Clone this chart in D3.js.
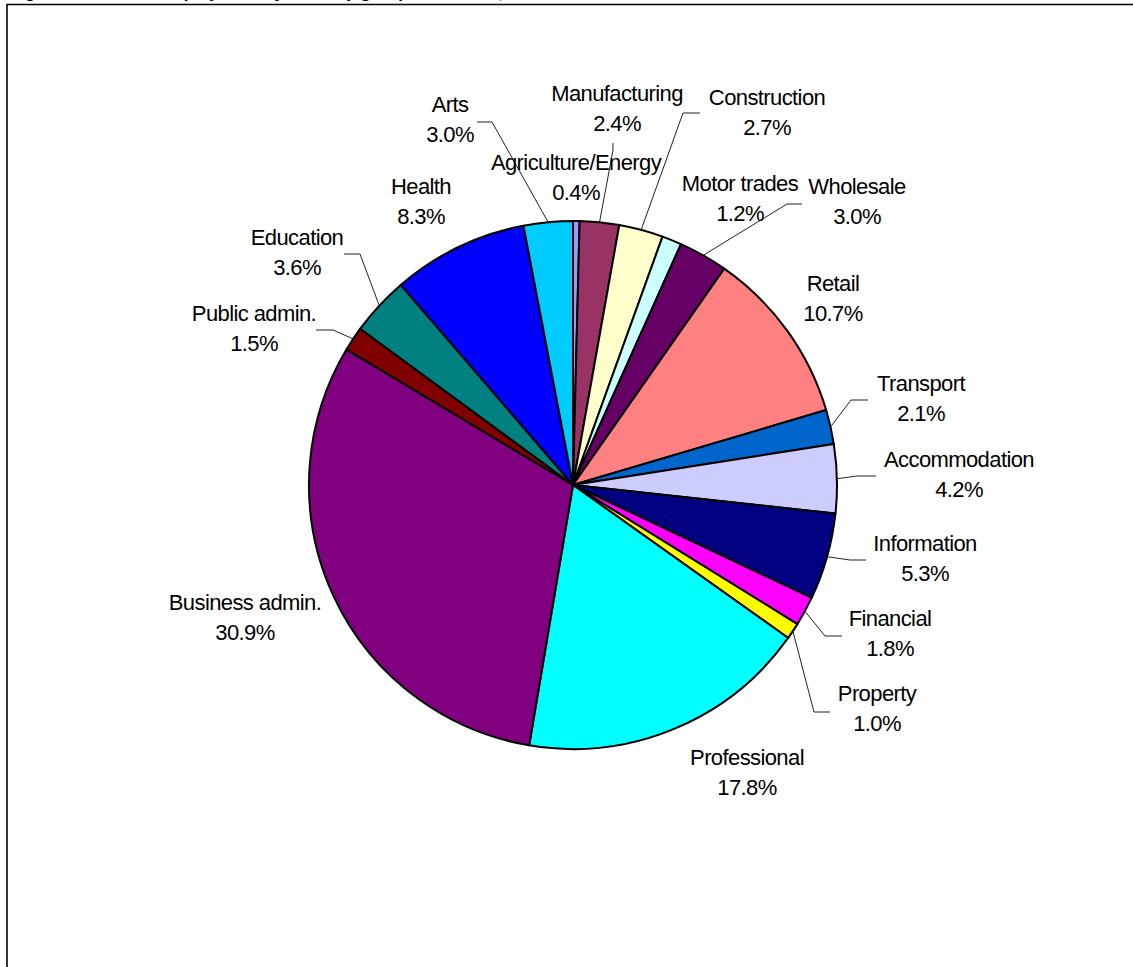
<!DOCTYPE html>
<html>
<head>
<meta charset="utf-8">
<script src="https://cdn.jsdelivr.net/npm/d3@7"></script>
<style>
  html, body { margin: 0; padding: 0; background: #fff; }
  svg { display: block; }
</style>
</head>
<body>
<svg id="chart" width="1133" height="967"></svg>
<script>
// ---- data ----
const categories = ["Agriculture/Energy","Manufacturing","Construction","Motor trades","Wholesale","Retail","Transport","Accommodation","Information","Financial","Property","Professional","Business admin.","Public admin.","Education","Health","Arts"];
const shares = [0.4, 2.4, 2.7, 1.2, 3.0, 10.7, 2.1, 4.2, 5.3, 1.8, 1.0, 17.8, 30.9, 1.5, 3.6, 8.3, 3.0];
const colors = ["#9999FF","#993366","#FFFFCC","#CCFFFF","#660066","#FF8080","#0066CC","#CCCCFF","#000080","#FF00FF","#FFFF00","#00FFFF","#800080","#800000","#008080","#0000FF","#00CCFF"];
const titleText = "Figure 9: Share of employment by industry group in the area, 2008";

// ---- layout (label centres, page coords) ----
const labelPos = {
  "Agriculture/Energy":[576,162], "Manufacturing":[617,93], "Construction":[767,97],
  "Motor trades":[740,183], "Wholesale":[857,186], "Retail":[833,283],
  "Transport":[921,383], "Accommodation":[959,459], "Information":[925,543],
  "Financial":[890,618], "Property":[877,693], "Professional":[747,757],
  "Business admin.":[245,602], "Public admin.":[254,313], "Education":[297,237],
  "Health":[421,186], "Arts":[450,104]
};
// leader lines: elbow and end points (page coords)
const leaders = {
  "Arts":[[492,122],[477,122]],
  "Manufacturing":[[613,150],[613,143]],
  "Construction":[[683,113],[700,113]],
  "Wholesale":[[787,204],[802,204]],
  "Transport":[[851,400],[868,400]],
  "Accommodation":[[857,476],[876,476]],
  "Information":[[850,560],[866,560]],
  "Financial":[[825,636],[842,636]],
  "Property":[[814,712],[830,712]],
  "Education":[[360,254],[344,254]],
  "Public admin.":[[333,330],[316,330]]
};

const cx = 573, cy = 485, R = 264;
const svg = d3.select("#chart");

// frame
svg.append("path")
  .attr("d", `M7,967 L7,4.5 L1133,4.5`)
  .attr("fill","none").attr("stroke","#000").attr("stroke-width",1.6);

// clipped title (only descenders visible, as in the reference)
svg.append("text")
  .attr("x", 10).attr("y", -2.5)
  .attr("font-family","Liberation Sans, Arial, sans-serif")
  .attr("font-weight","bold").attr("font-size",17)
  .text(titleText);

const data = categories.map((c,i)=>({name:c, value:shares[i], color:colors[i]}));
const pie = d3.pie().sort(null).value(d=>d.value).startAngle(0).endAngle(2*Math.PI);
const arcs = pie(data);
const arc = d3.arc().innerRadius(0).outerRadius(R);

const g = svg.append("g").attr("transform",`translate(${cx},${cy})`);
g.selectAll("path.slice").data(arcs).join("path")
  .attr("class","slice")
  .attr("d", arc)
  .attr("fill", d=>d.data.color)
  .attr("stroke","#000").attr("stroke-width",2).attr("stroke-linejoin","round");

// leader lines
arcs.forEach(a=>{
  const L = leaders[a.data.name];
  if(!L) return;
  const mid = (a.startAngle + a.endAngle)/2;
  const sx = cx + R*Math.sin(mid), sy = cy - R*Math.cos(mid);
  svg.append("polyline")
    .attr("points", [[sx,sy], L[0], L[1]].map(p=>p.join(",")).join(" "))
    .attr("fill","none").attr("stroke","#222").attr("stroke-width",1);
});

// labels
const lab = svg.append("g")
  .attr("font-family","Liberation Sans, Arial, sans-serif")
  .attr("font-size",22).attr("letter-spacing","-0.6")
  .attr("text-anchor","middle").attr("fill","#000");
arcs.forEach(a=>{
  const p = labelPos[a.data.name];
  const t = lab.append("text").attr("x",p[0]).attr("y",p[1]+8);
  t.append("tspan").attr("x",p[0]).attr("y",p[1]+8).text(a.data.name);
  t.append("tspan").attr("x",p[0]).attr("y",p[1]+38).text(d3.format(".1f")(a.data.value)+"%");
});
</script>
</body>
</html>
